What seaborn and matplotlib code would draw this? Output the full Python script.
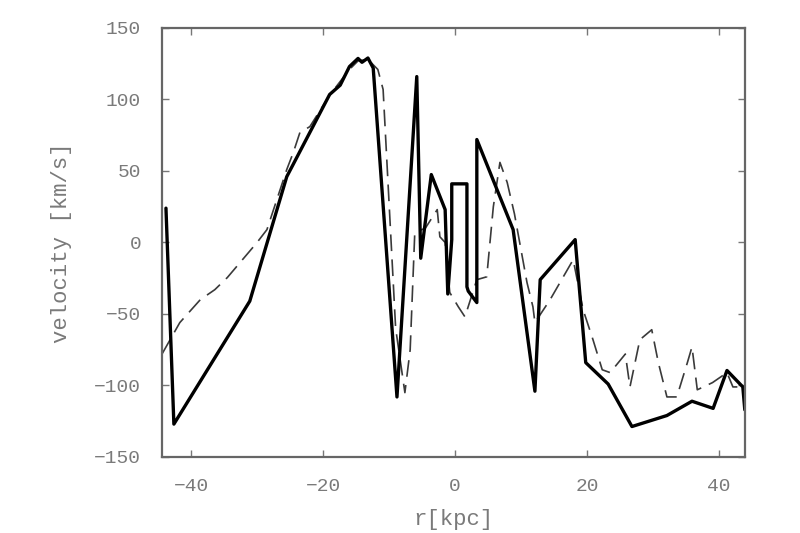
import numpy as np
import pandas as pd
import matplotlib
matplotlib.use('Agg')
import matplotlib.pyplot as plt
import seaborn as sns

# Rotation curve data
# solid line (observed)
r_solid = [-43.8, -42.6, -31.1, -25.5, -19.0, -17.4, -16.0, -14.7, -14.1, -13.2, -12.4,
           -8.8, -5.8, -5.2, -3.6, -1.5, -1.1, -0.5, -0.5, 1.8, 1.8, 2.0, 3.3, 3.3,
           8.8, 12.1, 12.9, 18.2, 19.8, 23.2, 26.8, 32.1, 35.9, 39.1, 41.2, 43.6, 43.9]
v_solid = [24, -127, -41, 46, 103.5, 110, 123, 128.7, 126, 129, 122,
           -108, 116, -11, 47.5, 23, -36, 2, 41, 41, -31, -34, -42, 72,
           9, -104, -26, 2, -84, -99, -128.7, -121, -111, -116, -89.5, -101, -117]

# dashed line (model)
r_dash = [-44.4, -41.7, -38.6, -36.4, -34.5, -30.0, -28.5, -27.0, -25.5, -24.5, -23.5,
          -22.0, -19.0, -16.0, -14.7, -13.2, -11.7, -10.9, -9.0, -7.6, -6.8, -6.1, -4.5,
          -2.7, -2.3, -1.5, -0.8, 0.5, 1.5, 3.3, 4.8, 5.8, 6.8, 7.9, 9.0, 10.9, 11.8,
          12.1, 14.4, 16.4, 17.9, 19.4, 20.9, 22.3, 23.5, 25.8, 26.5, 28.0, 29.8, 30.8,
          32.1, 33.6, 35.2, 35.9, 36.7, 39.0, 41.2, 42.1, 44.0]
v_dash = [-78, -56, -40, -33, -24.5, 0, 9, 30, 51, 63, 77,
          81, 103, 121, 127, 128, 121, 107, -60, -105, -75, 7, 10,
          23, 4, 0, -35, -45, -52, -26, -24, 25, 56, 42, 20, -28, -45,
          -56, -40, -24, -12, -47, -68, -89, -91, -78, -101, -68, -61, -84,
          -108, -108, -84, -73, -103, -98, -91, -101, -101]

df_solid = pd.DataFrame({'r': r_solid, 'v': v_solid})
df_dash = pd.DataFrame({'r': r_dash, 'v': v_dash})

sns.set_style('white')
plt.rcParams['font.family'] = ['Liberation Mono', 'DejaVu Sans Mono']
text_col = '#7a7a7a'

fig, ax = plt.subplots(figsize=(8, 5.33), dpi=100)
fig.subplots_adjust(left=0.2025, right=0.931, top=0.9475, bottom=0.1426)

sns.lineplot(data=df_dash, x='r', y='v', sort=False, estimator=None, ax=ax,
             color='#3a3a3a', linewidth=1.2)
ax.lines[-1].set_dashes([10, 5])
sns.lineplot(data=df_solid, x='r', y='v', sort=False, estimator=None, ax=ax,
             color='black', linewidth=2.4)

ax.set_xlim(-44.4, 43.9)
ax.set_ylim(-150, 150)
ax.set_xticks([-40, -20, 0, 20, 40])
ax.set_yticks([-150, -100, -50, 0, 50, 100, 150])
ax.set_xlabel('r[kpc]', fontsize=16, color=text_col, labelpad=10)
ax.set_ylabel('velocity [km/s]', fontsize=16, color=text_col, labelpad=16)
ax.tick_params(direction='in', length=5, width=1, colors='#777777',
               labelcolor=text_col, labelsize=14, pad=15)
ax.tick_params(axis='x', top=True, bottom=True)
ax.tick_params(axis='y', left=True, right=True)
for s in ax.spines.values():
    s.set_color('#666666')
    s.set_linewidth(1.6)

plt.savefig('out.png', dpi=100)
